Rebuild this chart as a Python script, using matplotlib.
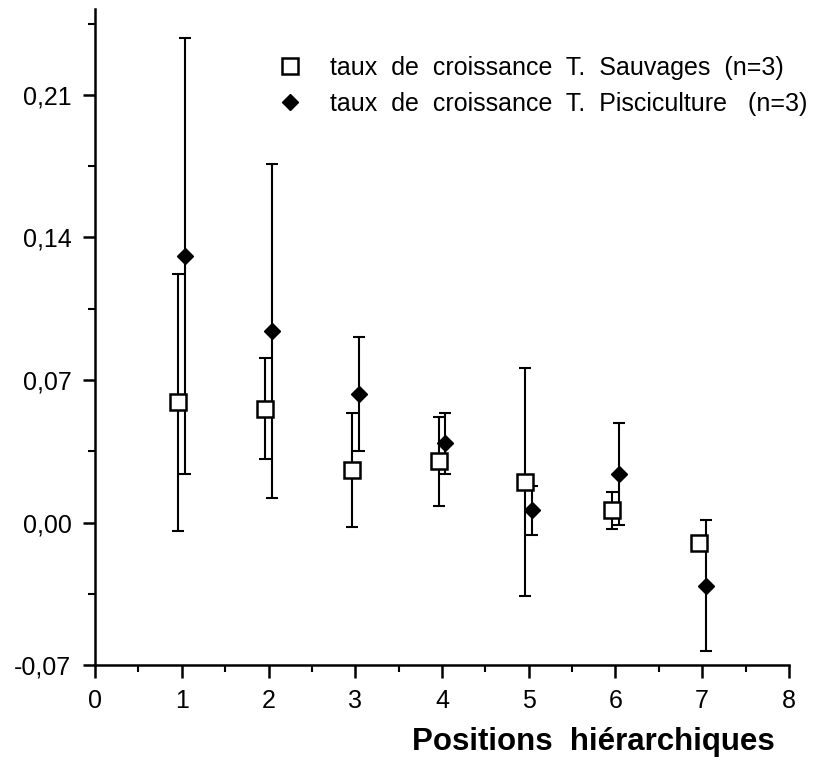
import matplotlib
matplotlib.use("Agg")
import matplotlib.pyplot as plt
from matplotlib.ticker import MultipleLocator

plt.rcParams['font.family'] = ['Liberation Sans', 'DejaVu Sans']

positions = [1, 2, 3, 4, 5, 6, 7]

# taux de croissance T. Sauvages (moyenne, ecart)
sauv_mean = [0.059, 0.056, 0.026, 0.030, 0.020, 0.006, -0.010]
sauv_err = [0.063, 0.025, 0.028, 0.022, 0.056, 0.009, 0.003]

# taux de croissance T. Pisciculture
pisc_mean = [0.131, 0.094, 0.063, 0.039, 0.006, 0.024, -0.031]
pisc_err = [0.107, 0.082, 0.028, 0.015, 0.012, 0.025, 0.032]

yticks = [-0.07, 0.0, 0.07, 0.14, 0.21]
ytick_labels = ["-0,07", "0,00", "0,07", "0,14", "0,21"]

fig = plt.figure(figsize=(8.3, 7.57), dpi=100)
ax = fig.add_axes([0.1145, 0.1215, 0.836, 0.866])

xs = [p - 0.04 for p in positions]
xp = [p + 0.04 for p in positions]

ax.errorbar(xs, sauv_mean, yerr=sauv_err, fmt='none', ecolor='black',
            elinewidth=1.5, capsize=4, capthick=1.5, zorder=2)
ax.errorbar(xp, pisc_mean, yerr=pisc_err, fmt='none', ecolor='black',
            elinewidth=1.5, capsize=4, capthick=1.5, zorder=2)
ax.plot(xs, sauv_mean, 's', ms=12, mfc='white', mec='black', mew=1.8,
        label='taux  de  croissance  T.  Sauvages  (n=3)', zorder=3)
ax.plot(xp, pisc_mean, 'D', ms=8, mfc='black', mec='black',
        label='taux  de  croissance  T.  Pisciculture   (n=3)', zorder=4)

ax.set_xlim(0, 8)
ax.set_ylim(-0.07, 0.252)
ax.spines['top'].set_visible(False)
ax.spines['right'].set_visible(False)
for s in ['left', 'bottom']:
    ax.spines[s].set_linewidth(1.8)

ax.set_yticks(yticks)
ax.set_yticklabels(ytick_labels)
ax.yaxis.set_minor_locator(MultipleLocator(0.035))
ax.xaxis.set_major_locator(MultipleLocator(1))
ax.xaxis.set_minor_locator(MultipleLocator(0.5))
ax.tick_params(axis='both', which='major', length=9, width=1.8, labelsize=18, pad=8)
ax.tick_params(axis='both', which='minor', length=5, width=1.5)

ax.set_xlabel('Positions  hiérarchiques', fontsize=22.5, fontweight='bold',
              ha='right', x=0.98, labelpad=10)

ax.legend(loc='upper left', bbox_to_anchor=(0.227, 0.963), frameon=False,
          fontsize=18, handletextpad=1.0, labelspacing=0.48, handlelength=1.2)

fig.savefig('out.png', dpi=100)
